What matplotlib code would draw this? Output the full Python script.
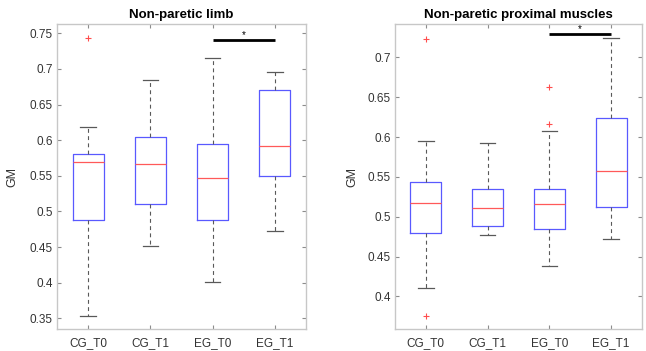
import matplotlib
matplotlib.use("Agg")
import matplotlib.pyplot as plt

plt.rcParams['font.family'] = ['Liberation Sans', 'DejaVu Sans']

categories = ["CG_T0", "CG_T1", "EG_T0", "EG_T1"]

# Non-paretic limb
limb_whislo = [0.353, 0.4515, 0.401, 0.472]
limb_q1 = [0.488, 0.511, 0.488, 0.550]
limb_med = [0.569, 0.566, 0.5466, 0.5916]
limb_q3 = [0.581, 0.605, 0.594, 0.670]
limb_whishi = [0.618, 0.684, 0.715, 0.696]
limb_fliers = [[0.743], [], [], []]
limb_sig_y = 0.741
limb_yticks = [0.35, 0.4, 0.45, 0.5, 0.55, 0.6, 0.65, 0.7, 0.75]
limb_ytick_labels = ["0.35", "0.4", "0.45", "0.5", "0.55", "0.6", "0.65", "0.7", "0.75"]

# Non-paretic proximal muscles
prox_whislo = [0.411, 0.4766, 0.4385, 0.4716]
prox_q1 = [0.480, 0.488, 0.484, 0.512]
prox_med = [0.517, 0.511, 0.5156, 0.557]
prox_q3 = [0.544, 0.5344, 0.535, 0.6236]
prox_whishi = [0.5955, 0.592, 0.608, 0.724]
prox_fliers = [[0.723, 0.375], [], [0.6626, 0.6165], []]
prox_sig_y = 0.7295
prox_yticks = [0.4, 0.45, 0.5, 0.55, 0.6, 0.65, 0.7]
prox_ytick_labels = ["0.4", "0.45", "0.5", "0.55", "0.6", "0.65", "0.7"]

fig = plt.figure(figsize=(6.46, 3.51), dpi=100)
ax1 = fig.add_axes([57/646, 1-329/351, 249/646, 305/351])
ax2 = fig.add_axes([395/646, 1-329/351, 247/646, 305/351])

spine_c = '0.78'
text_c = '0.2'


def draw(ax, whislo, q1, med, q3, whishi, fliers, ylim, yticks, ylabels, title, sig_y):
    stats = []
    for i in range(len(categories)):
        stats.append(dict(whislo=whislo[i], q1=q1[i], med=med[i], q3=q3[i],
                          whishi=whishi[i], fliers=fliers[i], label=categories[i]))
    ax.bxp(stats, positions=[1, 2, 3, 4], widths=0.5, capwidths=0.25,
           boxprops=dict(color=(0.35, 0.35, 1.0), linewidth=0.9),
           medianprops=dict(color=(1.0, 0.35, 0.35), linewidth=0.9),
           whiskerprops=dict(color='0.35', linewidth=0.8, linestyle=(0, (3.5, 3))),
           capprops=dict(color='0.35', linewidth=0.9),
           flierprops=dict(marker='+', markeredgecolor=(1.0, 0.3, 0.3),
                           markersize=5, markeredgewidth=0.8, linestyle='none'))
    ax.set_xlim(0.5, 4.5)
    ax.set_ylim(*ylim)
    ax.set_yticks(yticks)
    ax.set_yticklabels(ylabels)
    ax.set_xticks([1, 2, 3, 4])
    ax.set_xticklabels(categories)
    ax.tick_params(axis='both', direction='in', length=3, width=0.8, color='0.55',
                   labelcolor=text_c, labelsize=8.5, top=True, right=True)
    ax.tick_params(axis='y', pad=3)
    ax.tick_params(axis='x', pad=6)
    for s in ax.spines.values():
        s.set_color(spine_c)
        s.set_linewidth(1.0)
    ax.set_title(title, fontsize=9.5, fontweight='bold', pad=4, color='black')
    ax.set_ylabel("GM", fontsize=9, color=text_c)
    ax.plot([3, 4], [sig_y, sig_y], color='black', linewidth=2, solid_capstyle='butt')
    ax.text(3.5, sig_y, "*", ha='center', va='bottom', fontsize=7, color='black')


draw(ax1, limb_whislo, limb_q1, limb_med, limb_q3, limb_whishi, limb_fliers,
     (0.335, 0.763), limb_yticks, limb_ytick_labels, "Non-paretic limb", limb_sig_y)
draw(ax2, prox_whislo, prox_q1, prox_med, prox_q3, prox_whishi, prox_fliers,
     (0.359, 0.742), prox_yticks, prox_ytick_labels, "Non-paretic proximal muscles", prox_sig_y)

ax1.yaxis.set_label_coords(-0.157, 0.5)
ax2.yaxis.set_label_coords(-0.15, 0.5)

fig.savefig("out.png", dpi=100)
